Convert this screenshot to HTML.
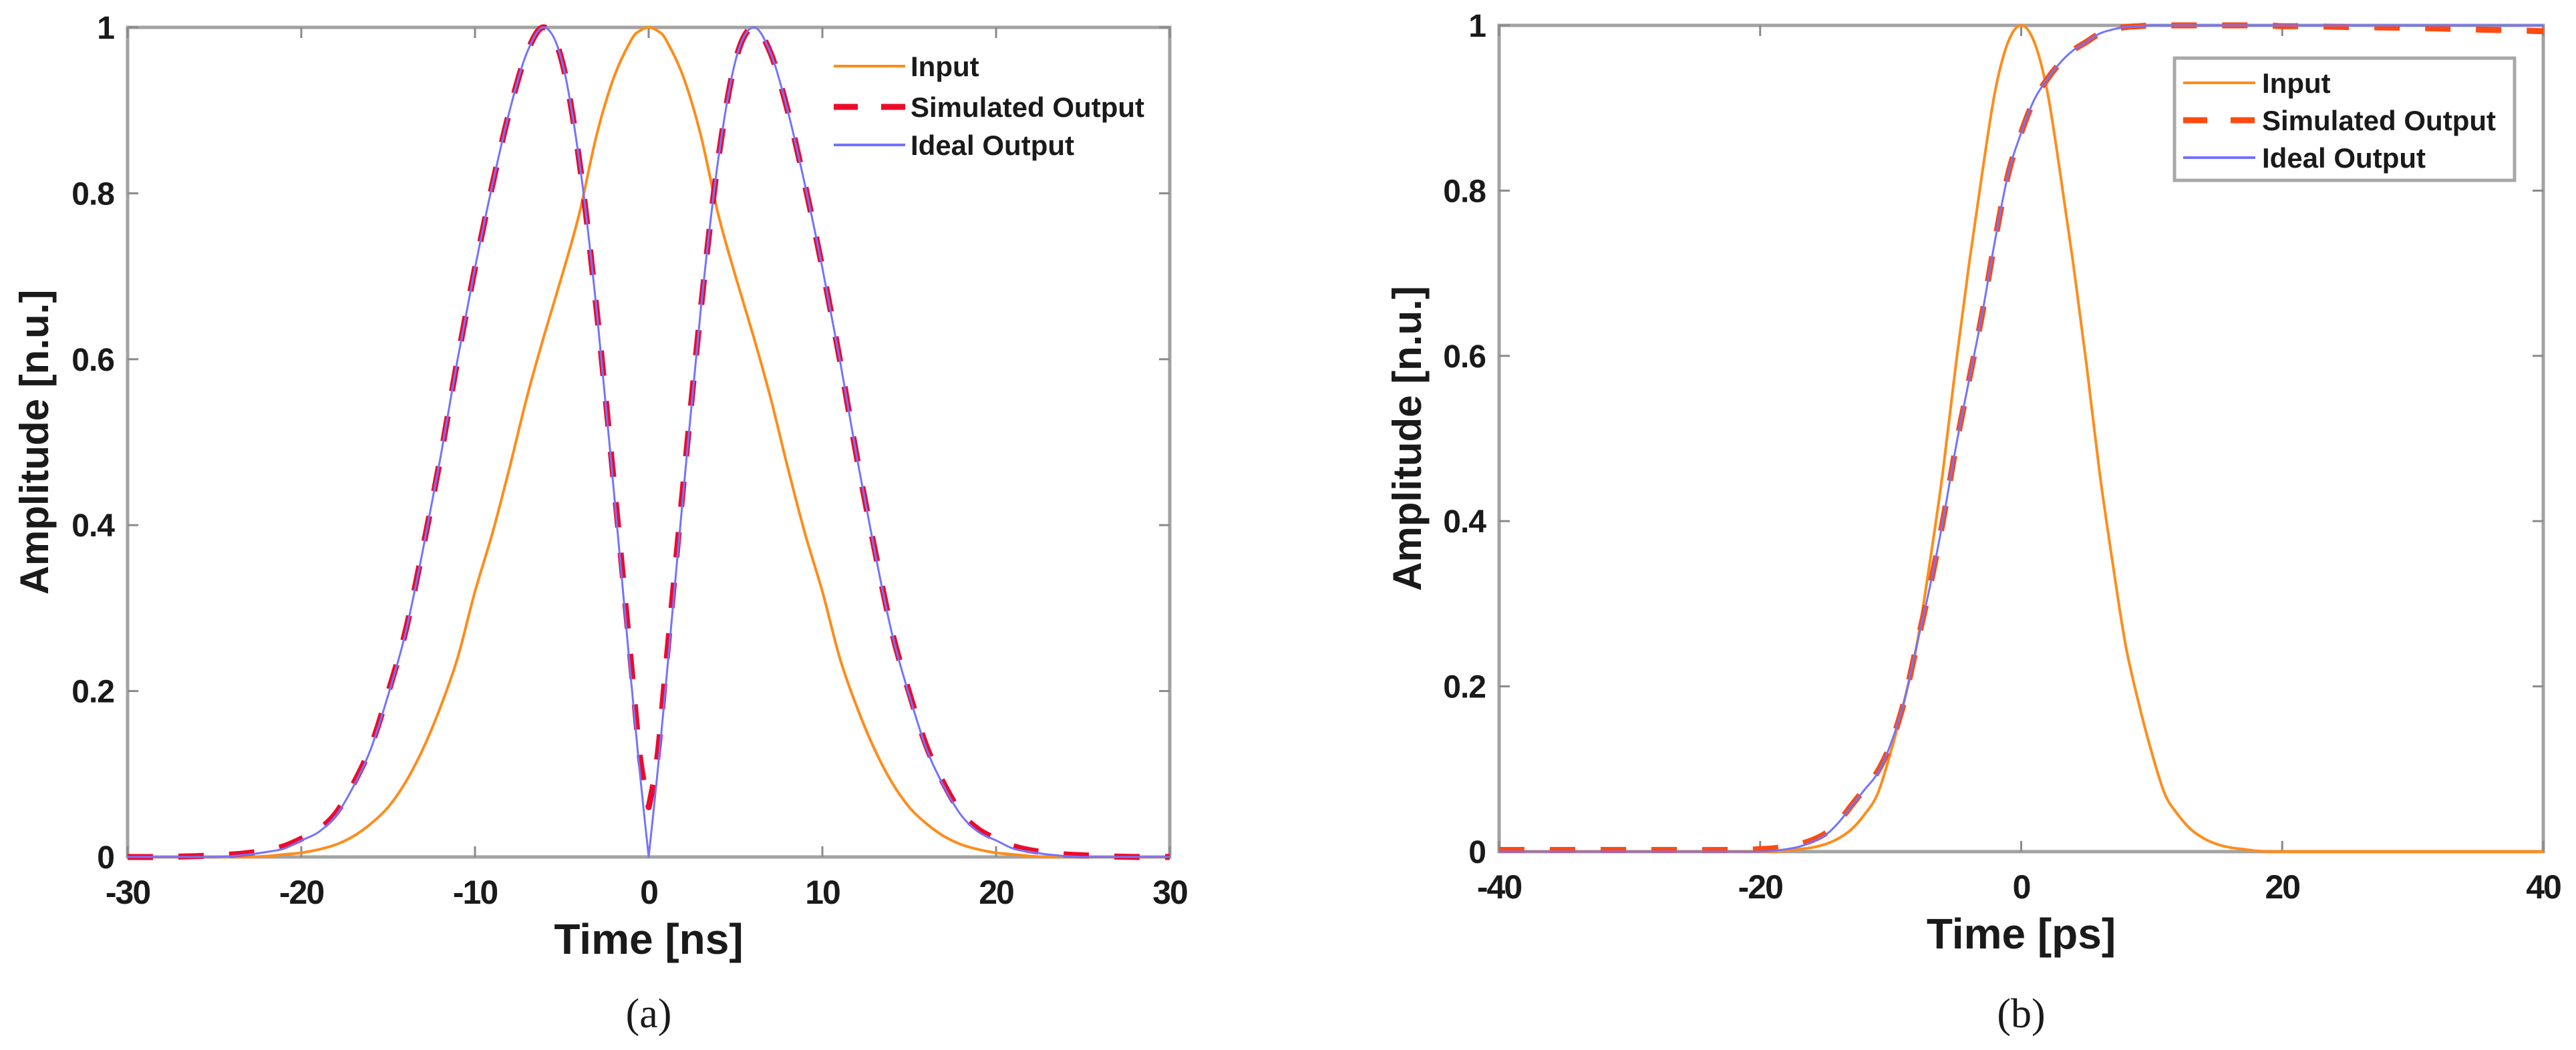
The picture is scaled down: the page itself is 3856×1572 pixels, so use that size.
<!DOCTYPE html>
<html><head><meta charset="utf-8">
<style>
html,body{margin:0;padding:0;background:#fff;}
svg{display:block;}
text{font-family:"Liberation Sans",Arial,sans-serif;font-weight:bold;fill:#1a1a1a;}
.cap{font-family:"Liberation Serif",serif;font-weight:normal;}
</style></head>
<body>
<svg id="fig" xmlns="http://www.w3.org/2000/svg" width="3856" height="1572" viewBox="0 0 3856 1572"></svg>
<script>
// ---------- Panel (a) data ----------
const aTicksX = [-30,-20,-10,0,10,20,30];
const aTicksY = [0,0.2,0.4,0.6,0.8,1];
const aTickLabelsY = ["0","0.2","0.4","0.6","0.8","1"];
const aTime = [-30,-28,-26,-25,-24,-23,-22,-21,-20,-19,-18,-17,-16,-15,-14,-13,-12,-11,-10,-9,-8,-7,-6,-5,-4,-3,-2,-1,-0.5,0,0.5,1,2,3,4,5,6,7,8,9,10,11,12,13,14,15,16,17,18,19,20,21,22,23,24,25,26,28,30];
const aInput = [0,0,0,0,0,0,0.001,0.003,0.005,0.009,0.015,0.025,0.04,0.06,0.09,0.13,0.18,0.24,0.32,0.39,0.47,0.555,0.63,0.70,0.775,0.87,0.94,0.985,0.996,1,0.996,0.985,0.94,0.87,0.775,0.70,0.63,0.555,0.47,0.39,0.32,0.24,0.18,0.13,0.09,0.06,0.04,0.025,0.015,0.009,0.005,0.003,0.001,0,0,0,0,0,0];
const aIdeal = [0,0,0,0,0.001,0.003,0.006,0.01,0.02,0.03,0.05,0.085,0.13,0.195,0.27,0.37,0.48,0.60,0.71,0.81,0.90,0.97,1.0,0.96,0.84,0.66,0.44,0.21,0.10,0,0.10,0.21,0.44,0.66,0.84,0.96,1.0,0.97,0.90,0.81,0.71,0.60,0.48,0.37,0.27,0.195,0.13,0.085,0.05,0.03,0.02,0.01,0.006,0.003,0.001,0,0,0,0];
const aSim = [0,0,0.001,0.002,0.003,0.005,0.008,0.013,0.022,0.033,0.053,0.088,0.133,0.198,0.272,0.372,0.48,0.60,0.71,0.81,0.90,0.97,1.0,0.96,0.84,0.66,0.45,0.23,0.12,0.06,0.12,0.23,0.45,0.66,0.84,0.96,1.0,0.97,0.90,0.81,0.71,0.60,0.48,0.372,0.272,0.198,0.133,0.088,0.053,0.033,0.022,0.013,0.008,0.005,0.003,0.002,0.001,0,0];

// ---------- Panel (b) data ----------
const bTicksX = [-40,-20,0,20,40];
const bTicksY = [0,0.2,0.4,0.6,0.8,1];
const bTickLabelsY = ["0","0.2","0.4","0.6","0.8","1"];
const bTime = [-40,-30,-22,-20,-19,-18,-17,-16,-15,-14,-13,-12,-11,-10,-9,-8,-7,-6,-5,-4,-3,-2,-1,0,1,2,3,4,5,6,7,8,9,10,11,12,13,14,15,16,17,18,19,20,22,25,30,35,40];
const bInput = [0,0,0,0,0,0.001,0.003,0.005,0.009,0.016,0.027,0.045,0.07,0.12,0.18,0.25,0.35,0.46,0.59,0.71,0.82,0.92,0.98,1,0.98,0.92,0.82,0.71,0.59,0.46,0.35,0.25,0.18,0.12,0.07,0.045,0.027,0.016,0.009,0.005,0.003,0.001,0,0,0,0,0,0,0];
const bIdeal = [0,0,0,0,0.001,0.003,0.006,0.012,0.02,0.035,0.055,0.075,0.095,0.13,0.18,0.25,0.32,0.40,0.49,0.57,0.65,0.74,0.82,0.87,0.91,0.935,0.955,0.97,0.98,0.99,0.995,0.998,0.999,1,1,1,1,1,1,1,1,1,1,1,1,1,1,1,1];
const bSim = [0.002,0.002,0.002,0.003,0.004,0.006,0.009,0.014,0.022,0.036,0.056,0.076,0.097,0.13,0.18,0.25,0.32,0.40,0.49,0.57,0.65,0.74,0.82,0.87,0.91,0.935,0.955,0.97,0.98,0.99,0.995,0.998,0.999,1,1,1,1,1,1,1,1,1,1,0.999,0.999,0.998,0.997,0.995,0.993];

const NS = "http://www.w3.org/2000/svg";
const svg = document.getElementById('fig');
function mk(tag, attrs, parent){ const e=document.createElementNS(NS,tag); for(const k in attrs) e.setAttribute(k,attrs[k]); (parent||svg).appendChild(e); return e; }

function smoothPath(pts){
  let d='M'+pts[0][0].toFixed(1)+','+pts[0][1].toFixed(1);
  for(let i=0;i<pts.length-1;i++){
    const p0=pts[Math.max(0,i-1)], p1=pts[i], p2=pts[i+1], p3=pts[Math.min(pts.length-1,i+2)];
    // keep sharp cusp at local minimum (notch)
    const c1=[p1[0]+(p2[0]-p0[0])/6, p1[1]+(p2[1]-p0[1])/6];
    const c2=[p2[0]-(p3[0]-p1[0])/6, p2[1]-(p3[1]-p1[1])/6];
    if(p1[1]>p0[1] && p1[1]>p2[1]) { c1[0]=p1[0]; c1[1]=p1[1]; }
    if(p2[1]>p1[1] && p2[1]>p3[1]) { c2[0]=p2[0]; c2[1]=p2[1]; }
    d+=' C'+c1[0].toFixed(1)+','+c1[1].toFixed(1)+' '+c2[0].toFixed(1)+','+c2[1].toFixed(1)+' '+p2[0].toFixed(1)+','+p2[1].toFixed(1);
  }
  return d;
}

function panel(P){
  const g = mk('g',{});
  
  
  const sx = v => P.x0 + (v - P.xmin)/(P.xmax-P.xmin)*(P.x1-P.x0);
  const sy = v => P.y1 - v*(P.y1-P.y0);
  const frame = mk('rect',{x:P.x0,y:P.y0,width:P.x1-P.x0,height:P.y1-P.y0,fill:'#fff',stroke:'#a2a2a2','stroke-width':5},g);
  
  
  P.ticksX.forEach(v=>{
    const x=sx(v);
    mk('line',{x1:x,y1:P.y1,x2:x,y2:P.y1-16,stroke:'#8a8a8a','stroke-width':3},g);
    mk('line',{x1:x,y1:P.y0,x2:x,y2:P.y0+16,stroke:'#8a8a8a','stroke-width':3},g);
    const t=mk('text',{x:x,y:P.y1+70,'font-size':50,'text-anchor':'middle','letter-spacing':-2},g);
    t.textContent=String(v);
    
    
  });
  P.ticksY.forEach((v,i)=>{
    const y=sy(v);
    mk('line',{x1:P.x0,y1:y,x2:P.x0+16,y2:y,stroke:'#8a8a8a','stroke-width':3},g);
    mk('line',{x1:P.x1,y1:y,x2:P.x1-16,y2:y,stroke:'#8a8a8a','stroke-width':3},g);
    const t=mk('text',{x:P.x0-20,y:y+17,'font-size':48,'text-anchor':'end','letter-spacing':-1},g);
    t.textContent=P.tickLabelsY[i];
    
    
  });
  function line(ts, vs, color, w, dash, name){
    const pts = ts.map((t,i)=>[sx(t), sy(vs[i])]);
    const p = mk('path',{d:smoothPath(pts),fill:'none',stroke:color,'stroke-width':w,'stroke-linejoin':'round'},g);
    if(dash) p.setAttribute('stroke-dasharray',dash);
    
    
  }
  line(P.time,P.input,'#ff8c1a',4,null,'input-line');
  line(P.time,P.sim,P.simColor,9,'38 38','simulated-output-line');
  line(P.time,P.ideal,'#7373ff',3,null,'ideal-output-line');
  const L=P.leg;
  if(L.box){
    const b=mk('rect',{x:L.box[0],y:L.box[1],width:L.box[2],height:L.box[3],fill:'#fff',stroke:'#a8a8a8','stroke-width':5},g);
    
    
  }
  const items=[['Input','#ff8c1a',4,null],['Simulated Output',P.simColor,9,'36 35']];
  items.push(['Ideal Output','#7373ff',4,null]);
  items.forEach((it,i)=>{
    const y=L.rows[i];
    const ln=mk('line',{x1:L.lx0,y1:y,x2:L.lx1,y2:y,stroke:it[1],'stroke-width':it[2]},g);
    if(it[3]) ln.setAttribute('stroke-dasharray',it[3]);
    const t=mk('text',{x:L.tx,y:y+15,'font-size':42},g);
    t.textContent=it[0];
    
    
  });
  const xt=mk('text',{x:(P.x0+P.x1)/2,y:P.y1+145,'font-size':64,'text-anchor':'middle'},g);
  xt.textContent=P.xTitle;
  
  
  const yt=mk('text',{x:0,y:0,'font-size':60,'text-anchor':'middle',transform:'translate('+(P.ytx)+','+((P.y0+P.y1)/2)+') rotate(-90)'},g);
  yt.textContent='Amplitude [n.u.]';
  
  
  const cap=mk('text',{x:(P.x0+P.x1)/2,y:1538,'font-size':62,'text-anchor':'middle','class':'cap'},g);
  cap.textContent=P.cap;
  
  
}

panel({name:'panel-a',x0:191,x1:1751,y0:41,y1:1283,xmin:-30,xmax:30,ticksX:aTicksX,ticksY:aTicksY,tickLabelsY:aTickLabelsY,
  time:aTime,input:aInput,ideal:aIdeal,sim:aSim,simColor:'#ee0a2a',
  leg:{box:null,rows:[99,160,217],lx0:1248,lx1:1355,tx:1363},xTitle:'Time [ns]',ytx:72,cap:'(a)'});
panel({name:'panel-b',x0:2244,x1:3807,y0:38,y1:1275,xmin:-40,xmax:40,ticksX:bTicksX,ticksY:bTicksY,tickLabelsY:bTickLabelsY,
  time:bTime,input:bInput,ideal:bIdeal,sim:bSim,simColor:'#ff4a10',
  leg:{box:[3255,87,509,183],rows:[124,180,236],lx0:3268,lx1:3376,tx:3386},xTitle:'Time [ps]',ytx:2127,cap:'(b)'});
</script>
</body></html>
